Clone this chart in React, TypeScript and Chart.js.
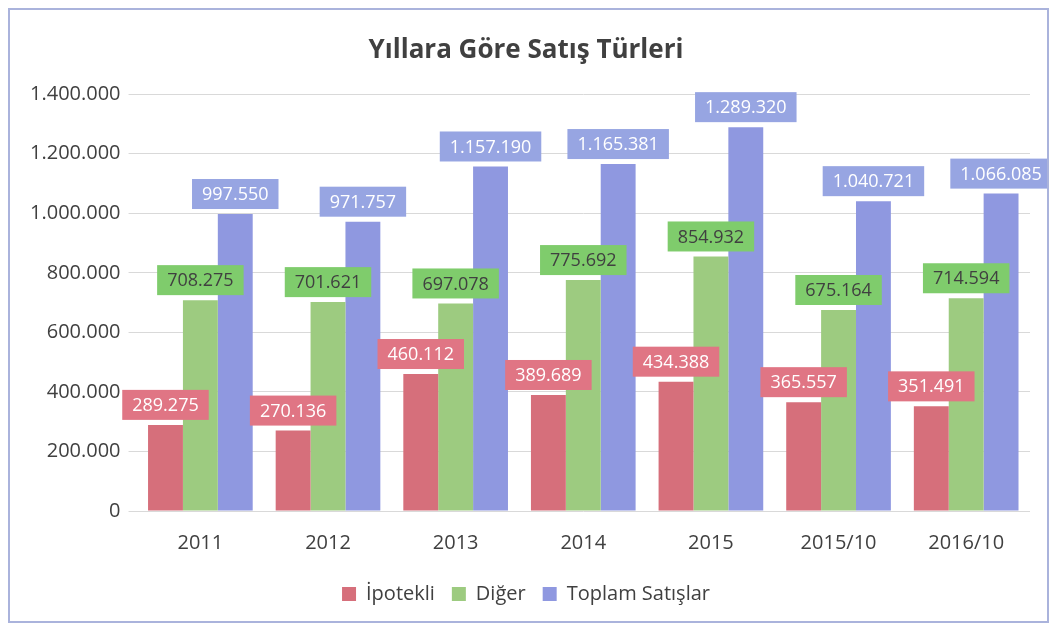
import React, { useEffect, useRef } from "react";
import { Chart, registerables } from "chart.js";

Chart.register(...registerables);

const categories = ["2011", "2012", "2013", "2014", "2015", "2015/10", "2016/10"];
const ipotekli = [289275, 270136, 460112, 389689, 434388, 365557, 351491];
const diger = [708275, 701621, 697078, 775692, 854932, 675164, 714594];
const toplam = [997550, 971757, 1157190, 1165381, 1289320, 1040721, 1066085];
const seriesNames = ["İpotekli", "Diğer", "Toplam Satışlar"];
const titleText = "Yıllara Göre Satış Türleri";

const barColors = ["#d66f7b", "#9dcb80", "#8f98e0"];
const labelBg = ["#e07584", "#7fcc6c", "#97a5e2"];
const labelFg = ["#ffffff", "#404040", "#ffffff"];

const FONT = "'Open Sans', 'Noto Sans', sans-serif";

const fmt = (v: number) => Math.round(v).toString().replace(/\B(?=(\d{3})+(?!\d))/g, ".");

const labelPlugin = {
  id: "boxLabels",
  afterDatasetsDraw(chart: any) {
    const ctx = chart.ctx;
    ctx.save();
    ctx.font = `18px ${FONT}`;
    ctx.textAlign = "center";
    ctx.textBaseline = "middle";
    chart.data.datasets.forEach((ds: any, di: number) => {
      const meta = chart.getDatasetMeta(di);
      meta.data.forEach((el: any, i: number) => {
        const text = fmt(ds.data[i]);
        const w = ctx.measureText(text).width + 20;
        const h = 30;
        const x = el.x;
        const bottom = el.y - 5;
        ctx.fillStyle = labelBg[di];
        ctx.fillRect(x - w / 2, bottom - h, w, h);
        ctx.fillStyle = labelFg[di];
        ctx.fillText(text, x, bottom - h / 2 + 1);
      });
    });
    ctx.restore();
  },
};

export default function App() {
  const ref = useRef<HTMLCanvasElement>(null);
  useEffect(() => {
    if (!ref.current) return;
    const data = [ipotekli, diger, toplam];
    const chart = new Chart(ref.current, {
      type: "bar",
      data: {
        labels: categories,
        datasets: data.map((d, i) => ({
          label: seriesNames[i],
          data: d,
          backgroundColor: barColors[i],
          borderWidth: 0,
          barPercentage: 1,
          categoryPercentage: 0.82,
        })),
      },
      options: {
        animation: false,
        responsive: true,
        maintainAspectRatio: false,
        layout: { padding: { left: 12, right: 17, top: 0, bottom: 7 } },
        plugins: {
          title: {
            display: true,
            text: titleText,
            color: "#404040",
            font: { family: FONT, size: 26, weight: "bold" },
            padding: { top: 25, bottom: 28 },
          },
          legend: {
            position: "bottom",
            labels: {
              color: "#404040",
              font: { family: FONT, size: 20 },
              boxWidth: 14,
              boxHeight: 14,
              padding: 17,
            },
          },
          tooltip: { enabled: false },
        },
        scales: {
          x: {
            grid: { display: false },
            border: { display: false },
            ticks: { color: "#404040", font: { family: FONT, size: 20 }, padding: 12 },
          },
          y: {
            min: 0,
            max: 1400000,
            grid: { color: "#d9d9d9" },
            border: { display: false },
            ticks: {
              stepSize: 200000,
              color: "#404040",
              font: { family: FONT, size: 20 },
              padding: 8,
              callback: (v: any) => fmt(Number(v)),
            },
          },
        },
      },
      plugins: [labelPlugin],
    });
    return () => chart.destroy();
  }, []);
  return (
    <div
      style={{
        width: 1037,
        height: 611,
        border: "2px solid #aab3dc",
        background: "#ffffff",
        position: "relative",
      }}
    >
      <canvas ref={ref} />
    </div>
  );
}
